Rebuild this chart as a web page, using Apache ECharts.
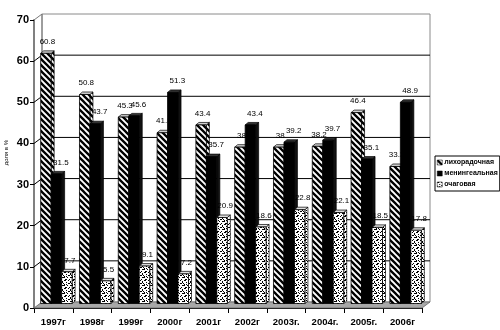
<!DOCTYPE html>
<html>
<head>
<meta charset="utf-8">
<script src="https://cdn.jsdelivr.net/npm/echarts/dist/echarts.min.js"></script>
<style>
  html, body { margin: 0; padding: 0; background: #fff; }
  #chart { width: 500px; height: 330px; }
</style>
</head>
<body>
<div id="chart"></div>
<script>
// Share of clinical forms by year, %
const years = ['1997г', '1998г', '1999г', '2000г', '2001г', '2002г', '2003г.', '2004г.', '2005г.', '2006г'];
const feverish = [60.8, 50.8, 45.3, 41.5, 43.4, 38, 38, 38.2, 46.4, 33.3];
const meningeal = [31.5, 43.7, 45.6, 51.3, 35.7, 43.4, 39.2, 39.7, 35.1, 48.9];
const focal = [7.7, 5.5, 9.1, 7.2, 20.9, 18.6, 22.8, 22.1, 18.5, 17.8];
const seriesNames = ['лихорадочная', 'менингеальная', 'очаговая'];
const yTicks = [0, 10, 20, 30, 40, 50, 60, 70];

const FONT = '"Liberation Sans", Arial, sans-serif';

// pseudo-3D offsets: back wall and bar placement / depth
const WX = 8, WY = -6;
const BX = 3, BY = -4.5;
const DX = 3, DY = -2.5;
// horizontal nudge of value labels per series
const LABEL_DX = [1.5, 4.5, 3];

// fill patterns
function hatchCanvas() {
  const c = document.createElement('canvas');
  c.width = 6; c.height = 6;
  const g = c.getContext('2d');
  g.fillStyle = '#fff'; g.fillRect(0, 0, 6, 6);
  g.strokeStyle = '#000'; g.lineWidth = 2.3;
  g.beginPath();
  g.moveTo(-2, -2); g.lineTo(8, 8);
  g.moveTo(-5, 1); g.lineTo(1, 7);
  g.moveTo(1, -5); g.lineTo(7, 1);
  g.stroke();
  return c;
}
function speckleCanvas() {
  const c = document.createElement('canvas');
  c.width = 8; c.height = 8;
  const g = c.getContext('2d');
  g.fillStyle = '#fff'; g.fillRect(0, 0, 8, 8);
  g.fillStyle = '#000';
  const dots = [[0,0,2,1],[4,0,1,1],[6,1,1,2],[2,2,1,1],[4,3,2,1],[0,4,1,2],[3,5,1,1],[6,5,2,1],[1,7,2,1],[5,7,1,1],[7,3,1,1],[2,4,1,1]];
  dots.forEach(d => g.fillRect(d[0], d[1], d[2], d[3]));
  return c;
}
const hatchFill = { image: hatchCanvas(), repeat: 'repeat' };
const speckleFill = { image: speckleCanvas(), repeat: 'repeat' };

const styles = [
  { front: hatchFill, side: hatchFill, top: '#d0d0d0' },
  { front: '#000', side: '#111', top: '#333' },
  { front: speckleFill, side: speckleFill, top: '#e0e0e0' }
];

function decorRenderer(params, api) {
  const band = api.size([1, 0])[0];
  const xl = api.coord([0, 0])[0] - band / 2;
  const xr = api.coord([years.length - 1, 0])[0] + band / 2;
  const y0 = api.coord([0, 0])[1];
  const yTop = api.coord([0, yTicks[yTicks.length - 1]])[1];
  const children = [];
  children.push({ type: 'rect', shape: { x: xl + WX, y: yTop + WY, width: xr - xl, height: y0 - yTop },
    style: { fill: '#fff', stroke: '#8a8a8a', lineWidth: 1 } });
  yTicks.slice(1, -1).forEach(v => {
    const y = api.coord([0, v])[1];
    children.push({ type: 'line', shape: { x1: xl + WX, y1: y + WY, x2: xr + WX, y2: y + WY },
      style: { stroke: '#000', lineWidth: 1 } });
    children.push({ type: 'line', shape: { x1: xl, y1: y, x2: xl + WX, y2: y + WY },
      style: { stroke: '#000', lineWidth: 1 } });
  });
  children.push({ type: 'line', shape: { x1: xl, y1: yTop, x2: xl + WX, y2: yTop + WY },
    style: { stroke: '#777', lineWidth: 1 } });
  children.push({ type: 'line', shape: { x1: xl + WX, y1: yTop + WY, x2: xl + WX, y2: y0 + WY },
    style: { stroke: '#777', lineWidth: 1 } });
  children.push({ type: 'polygon', shape: { points: [[xl, y0], [xr, y0], [xr + WX, y0 + WY], [xl + WX, y0 + WY]] },
    style: { fill: '#a8a8a8', stroke: '#666', lineWidth: 0.8 } });
  return { type: 'group', children };
}

// geometry of one bar's front face
function barBox(sIdx, api) {
  const c = api.value(0), v = api.value(1);
  const p0 = api.coord([c, 0]);
  const p1 = api.coord([c, v]);
  const band = api.size([1, 0])[0];
  const bw = band * 0.27;
  return { v, bw, x: p0[0] - 1.5 * bw + sIdx * bw + BX, yb: p0[1] + BY, yt: p1[1] + BY };
}

function barRenderer(sIdx) {
  const st = styles[sIdx];
  return function (params, api) {
    const { bw, x, yb, yt } = barBox(sIdx, api);
    return {
      type: 'group',
      children: [
        { type: 'polygon', shape: { points: [[x + bw, yt], [x + bw + DX, yt + DY], [x + bw + DX, yb + DY], [x + bw, yb]] },
          style: { fill: st.side, stroke: '#000', lineWidth: 0.7 } },
        { type: 'polygon', shape: { points: [[x, yt], [x + DX, yt + DY], [x + bw + DX, yt + DY], [x + bw, yt]] },
          style: { fill: st.top, stroke: '#000', lineWidth: 0.7 } },
        { type: 'rect', shape: { x: x, y: yt, width: bw, height: yb - yt },
          style: { fill: st.front, stroke: '#000', lineWidth: 0.8 } }
      ]
    };
  };
}

function labelRenderer(sIdx) {
  return function (params, api) {
    const { v, bw, x, yt } = barBox(sIdx, api);
    return {
      type: 'text',
      style: { text: String(v), x: x + bw / 2 + LABEL_DX[sIdx], y: yt + DY - 5, fill: '#000',
               font: '8px ' + FONT, align: 'center', verticalAlign: 'bottom' }
    };
  };
}

const seriesValues = [feverish, meningeal, focal];

const chart = echarts.init(document.getElementById('chart'), null, { renderer: 'canvas' });
chart.setOption({
  animation: false,
  backgroundColor: '#fff',
  grid: { left: 34, right: 78, top: 20, bottom: 22 },
  xAxis: {
    type: 'category',
    data: years,
    boundaryGap: true,
    axisLine: { lineStyle: { color: '#000', width: 1 } },
    axisTick: { show: true, alignWithLabel: false, length: 5, lineStyle: { color: '#000' } },
    axisLabel: { color: '#000', fontFamily: FONT, fontWeight: 'bold', fontSize: 9.5, margin: 9, interval: 0 },
    splitLine: { show: false }
  },
  yAxis: {
    type: 'value',
    min: 0, max: 70, interval: 10,
    axisLine: { show: true, lineStyle: { color: '#808080', width: 2 } },
    axisTick: { show: true, length: 4, lineStyle: { color: '#000' } },
    axisLabel: { color: '#000', fontFamily: FONT, fontWeight: 'bold', fontSize: 11, margin: 5 },
    splitLine: { show: false }
  },
  legend: {
    orient: 'vertical',
    left: 435, top: 156,
    itemWidth: 5, itemHeight: 5, itemGap: 4,
    padding: [3, 2, 3, 2],
    borderColor: '#000', borderWidth: 1,
    icon: 'rect',
    itemStyle: { borderColor: '#000', borderWidth: 0.5 },
    textStyle: { color: '#000', fontFamily: FONT, fontWeight: 'bold', fontSize: 7, padding: [0, 0, 0, -3] },
    data: seriesNames
  },
  graphic: [{
    type: 'text', left: 3, top: 140, rotation: Math.PI / 2,
    style: { text: 'доля в %', fill: '#000', font: '6px ' + FONT }
  }],
  series: [
    { type: 'custom', name: 'decor', z: 1, silent: true, renderItem: decorRenderer, data: [[0, 0]] }
  ].concat(seriesNames.map((name, i) => ({
    type: 'custom',
    name: name,
    z: 2 + i,
    itemStyle: { color: styles[i].front },
    renderItem: barRenderer(i),
    encode: { x: 0, y: 1 },
    data: years.map((y, k) => [k, seriesValues[i][k]])
  }))).concat(seriesNames.map((name, i) => ({
    type: 'custom',
    name: name + ' (подписи)',
    z: 10,
    silent: true,
    renderItem: labelRenderer(i),
    encode: { x: 0, y: 1 },
    data: years.map((y, k) => [k, seriesValues[i][k]])
  })))
});
</script>
</body>
</html>
